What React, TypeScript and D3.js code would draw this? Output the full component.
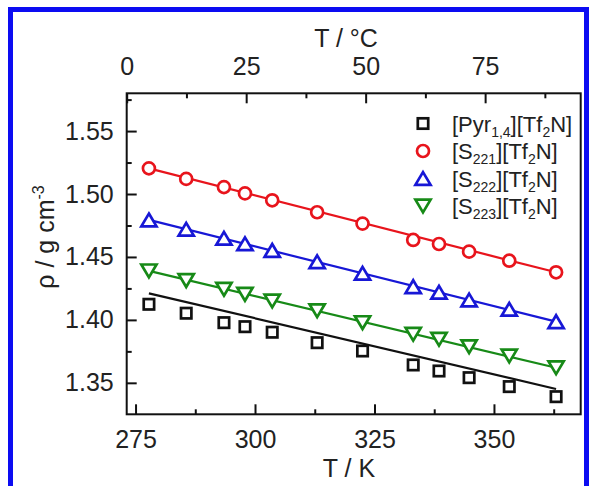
import { useEffect, useRef } from "react";
import * as d3 from "d3";

// temperatures of the measurements (K)
const tempK = [277.8, 285.6, 293.5, 297.9, 303.6, 313.0, 322.5, 333.1, 338.5, 344.8, 353.2, 363.0];

// densities (g cm^-3)
const rhoPyr = [1.4124, 1.4053, 1.3978, 1.3946, 1.3902, 1.3819, 1.3753, 1.3642, 1.3594, 1.3541, 1.347, 1.339];
const rhoS221 = [1.5204, 1.512, 1.5055, 1.5005, 1.495, 1.4855, 1.4765, 1.4635, 1.4603, 1.4542, 1.447, 1.4378];
const rhoS222 = [1.4794, 1.472, 1.4648, 1.4605, 1.4552, 1.4462, 1.437, 1.4264, 1.4219, 1.4158, 1.4084, 1.3986];
const rhoS223 = [1.4389, 1.4312, 1.4243, 1.4203, 1.415, 1.4073, 1.3978, 1.3886, 1.3846, 1.3787, 1.3713, 1.362];

// linear fits, value at first and last temperature
const fitPyr = [1.4211, 1.3451];
const fitS221 = [1.5204, 1.4378];
const fitS222 = [1.4794, 1.3986];
const fitS223 = [1.4389, 1.362];

const ticksK = [275, 300, 325, 350];
const ticksC = [0, 25, 50, 75];
const ticksRho = [1.35, 1.4, 1.45, 1.5, 1.55];

const series = [
  { name: ["[Pyr", "1,4", "][Tf", "2", "N]"], values: rhoPyr, fit: fitPyr, color: "#111111", symbol: "square" },
  { name: ["[S", "221", "][Tf", "2", "N]"], values: rhoS221, fit: fitS221, color: "#e8141c", symbol: "circle" },
  { name: ["[S", "222", "][Tf", "2", "N]"], values: rhoS222, fit: fitS222, color: "#1717d6", symbol: "up" },
  { name: ["[S", "223", "][Tf", "2", "N]"], values: rhoS223, fit: fitS223, color: "#178a17", symbol: "down" },
];

const W = 589;
const H = 486;
const font = "'Liberation Sans', Arial, sans-serif";

function drawSymbol(g, kind, cx, cy, color) {
  const sw = 2.7;
  if (kind === "square") {
    g.append("rect").attr("x", cx - 5.2).attr("y", cy - 5.2).attr("width", 10.4).attr("height", 10.4)
      .attr("fill", "white").attr("stroke", color).attr("stroke-width", sw);
  } else if (kind === "circle") {
    g.append("circle").attr("cx", cx).attr("cy", cy).attr("r", 6)
      .attr("fill", "white").attr("stroke", color).attr("stroke-width", sw);
  } else {
    const w = 7.6, h = 12.8;
    const s = kind === "up" ? 1 : -1;
    const p = d3.path();
    p.moveTo(cx, cy - s * h / 2);
    p.lineTo(cx + w, cy + s * h / 2);
    p.lineTo(cx - w, cy + s * h / 2);
    p.closePath();
    g.append("path").attr("d", p.toString())
      .attr("fill", "white").attr("stroke", color).attr("stroke-width", sw).attr("stroke-linejoin", "miter");
  }
}

export default function App() {
  const ref = useRef(null);

  useEffect(() => {
    const svg = d3.select(ref.current);
    svg.selectAll("*").remove();

    const left = 126.7, right = 580.7, top = 93.3, bottom = 414.3;
    const x = d3.scaleLinear().domain([273.15, 368.15]).range([left, right]);
    const xc = d3.scaleLinear().domain([0, 95]).range([left, right]);
    const y = d3.scaleLinear().domain([1.325, 1.58]).range([bottom, top]);

    // blue outer border
    svg.append("rect").attr("x", 10.5).attr("y", 9.5).attr("width", 576).attr("height", 500)
      .attr("fill", "white").attr("stroke", "#0c0cf2").attr("stroke-width", 5);

    const axisStyle = (g) => {
      g.select(".domain").remove();
      g.selectAll("line").attr("stroke", "#111").attr("stroke-width", 2);
      g.selectAll("text").attr("font-family", font).attr("font-size", 25).attr("fill", "#222");
    };

    // bottom axis (K)
    svg.append("g").attr("transform", `translate(0,${bottom})`)
      .call(d3.axisBottom(x).tickValues(ticksK).tickSize(-10).tickPadding(16).tickFormat(d3.format("d")))
      .call(axisStyle);
    svg.append("g").attr("transform", `translate(0,${bottom})`)
      .call(d3.axisBottom(x).tickValues(ticksK.map((t) => t + 12.5)).tickSize(-5).tickFormat(() => ""))
      .call(axisStyle);

    // top axis (°C)
    svg.append("g").attr("transform", `translate(0,${top})`)
      .call(d3.axisTop(xc).tickValues(ticksC).tickSize(-10).tickPadding(18).tickFormat(d3.format("d")))
      .call(axisStyle);
    svg.append("g").attr("transform", `translate(0,${top})`)
      .call(d3.axisTop(xc).tickValues(ticksC.map((t) => t + 12.5)).tickSize(-5).tickFormat(() => ""))
      .call(axisStyle);

    // left axis
    svg.append("g").attr("transform", `translate(${left},0)`)
      .call(d3.axisLeft(y).tickValues(ticksRho).tickSize(-10).tickPadding(13).tickFormat(d3.format(".2f")))
      .call(axisStyle);
    svg.append("g").attr("transform", `translate(${left},0)`)
      .call(d3.axisLeft(y).tickValues(ticksRho.map((t) => t + 0.025)).tickSize(-5).tickFormat(() => ""))
      .call(axisStyle);

    // frame
    svg.append("rect").attr("x", left).attr("y", top).attr("width", right - left).attr("height", bottom - top)
      .attr("fill", "none").attr("stroke", "#111").attr("stroke-width", 2);

    // axis titles
    svg.append("text").attr("x", 349).attr("y", 477).attr("text-anchor", "middle")
      .attr("font-family", font).attr("font-size", 25).attr("fill", "#222").text("T / K");
    svg.append("text").attr("x", 346).attr("y", 47).attr("text-anchor", "middle")
      .attr("font-family", font).attr("font-size", 25).attr("fill", "#222").text("T / °C");
    const yt = svg.append("text").attr("transform", "translate(54,237) rotate(-90)").attr("text-anchor", "middle")
      .attr("font-family", font).attr("font-size", 25).attr("fill", "#222");
    yt.append("tspan").text("ρ / g cm");
    yt.append("tspan").attr("dy", -10).attr("font-size", 16).text("-3");

    // fit lines and markers
    const t0 = tempK[0], t1 = tempK[tempK.length - 1];
    series.forEach((s) => {
      svg.append("line").attr("x1", x(t0)).attr("y1", y(s.fit[0])).attr("x2", x(t1)).attr("y2", y(s.fit[1]))
        .attr("stroke", s.color).attr("stroke-width", 2.2);
    });
    series.forEach((s) => {
      const g = svg.append("g");
      s.values.forEach((v, i) => drawSymbol(g, s.symbol, x(tempK[i]), y(v), s.color));
    });

    // legend
    const lg = svg.append("g");
    series.forEach((s, i) => {
      const cy = 123.5 + i * 27.5;
      drawSymbol(lg, s.symbol, 423, cy, s.color);
      const t = lg.append("text").attr("x", 452).attr("y", cy + 8)
        .attr("font-family", font).attr("font-size", 22).attr("fill", "#222");
      t.append("tspan").text(s.name[0]);
      t.append("tspan").attr("dy", 5).attr("font-size", 14).text(s.name[1]);
      t.append("tspan").attr("dy", -5).text(s.name[2]);
      t.append("tspan").attr("dy", 5).attr("font-size", 14).text(s.name[3]);
      t.append("tspan").attr("dy", -5).text(s.name[4]);
    });
  }, []);

  return (
    <svg ref={ref} width={W} height={H}
      style={{ position: "absolute", left: 0, top: 0, background: "white" }} />
  );
}
